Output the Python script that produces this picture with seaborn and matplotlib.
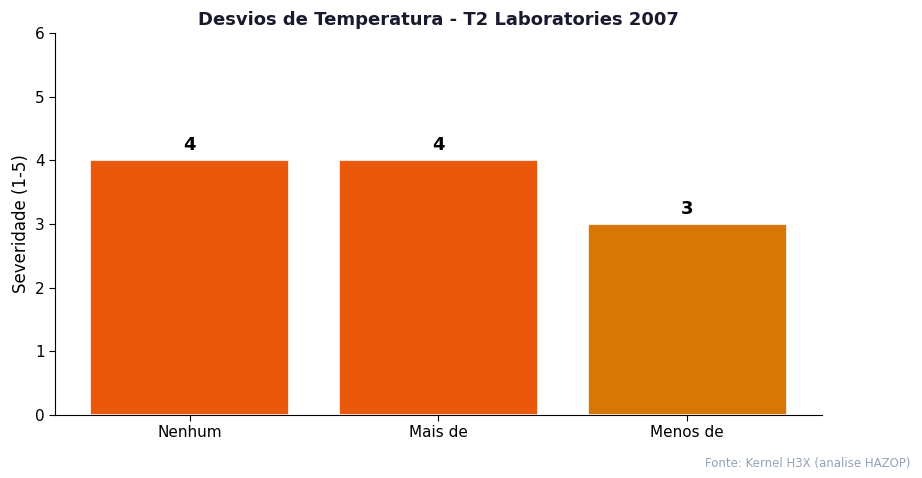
import pandas as pd
import seaborn as sns
import matplotlib.pyplot as plt

sns.set_style('white')
plt.rcParams['text.color'] = 'black'
plt.rcParams['axes.labelcolor'] = 'black'
plt.rcParams['xtick.color'] = 'black'
plt.rcParams['ytick.color'] = 'black'

# Data
categories = ['Nenhum', 'Mais de', 'Menos de']
severity = [4, 4, 3]
colors = ['#ea580c', '#ea580c', '#d97706']

df = pd.DataFrame({'Desvio': categories, 'Severidade': severity})

fig = plt.figure(figsize=(9.22, 4.78), dpi=100)
ax = fig.add_axes([0.06, 0.132, 0.831, 0.799])

sns.barplot(data=df, x='Desvio', y='Severidade', hue='Desvio', palette=colors,
            legend=False, width=0.8, edgecolor='white', linewidth=1.2, saturation=1, ax=ax)

for i, v in enumerate(severity):
    ax.text(i, v + 0.1, str(v), ha='center', va='bottom', fontsize=13,
            fontweight='bold', color='black')

ax.set_xlim(-0.54, 2.54)
ax.set_ylim(0, 6)
ax.set_xlabel('')
ax.set_ylabel('Severidade (1-5)', fontsize=12)
ax.tick_params(axis='both', labelsize=11, length=4, left=True, bottom=True)
ax.set_title('Desvios de Temperatura - T2 Laboratories 2007', fontsize=13,
             fontweight='bold', color='#1a1a2e', pad=6)
sns.despine(ax=ax)
for s in ['left', 'bottom']:
    ax.spines[s].set_color('black')

fig.text(0.988, 0.03, 'Fonte: Kernel H3X (analise HAZOP)', ha='right', va='center',
         fontsize=8.5, color='#94a3b8')

plt.savefig('out.png', dpi=100)
plt.close()
